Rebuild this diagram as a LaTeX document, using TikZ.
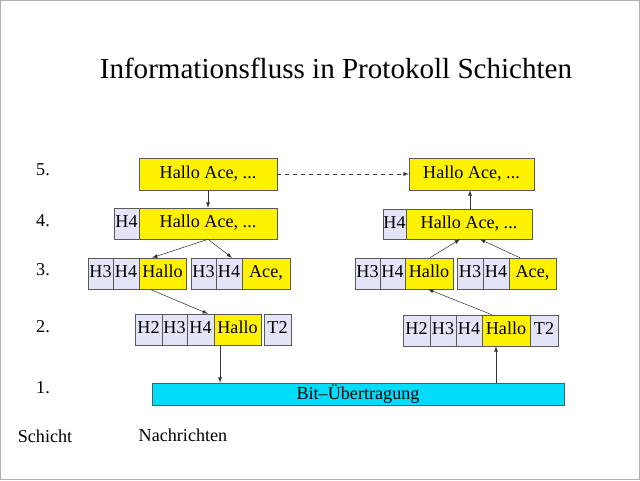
\documentclass[tikz,border=0pt]{standalone}
\usepackage{fontspec}
\setmainfont{Liberation Serif}
\begin{document}
\begin{tikzpicture}[x=0.75pt,y=-0.75pt,
 bx/.style={draw=gray!70!black,font=\fontsize{13.6}{15}\selectfont,inner sep=0pt},
 hd/.style={bx,fill={rgb,255:red,228;green,228;blue,248}},
 ye/.style={bx,fill=yellow},
 ar/.style={-latex,black!80,thin},
 lab/.style={font=\fontsize{13.6}{15}\selectfont}]
\useasboundingbox (0,0) rectangle (640,480);
\draw[gray!60] (0.5,0.5) rectangle (639.5,479.5);
\newcommand{\bxat}[6]{\node[#1,minimum width=#4*0.75pt-#3*0.75pt,minimum height=#6*0.75pt-#5*0.75pt] (#2) at ({(#3+#4)/2},{(#5+#6)/2}) {\strut\makebox[0pt]{\BxText}};}
\newcommand{\B}[7]{\def\BxText{#7}\bxat{#1}{#2}{#3}{#4}{#5}{#6}}
\node[font=\fontsize{21.8}{26}\selectfont] (title) at (336,68) {Informationsfluss in Protokoll Schichten};
% level 5
\B{ye}{l5}{139}{277}{158}{190}{Hallo Ace, ...}
\B{ye}{r5}{409}{534}{158}{190}{Hallo Ace, ...}
% level 4
\B{hd}{l4h}{114}{139}{208}{239}{H4}
\B{ye}{l4}{139}{277}{208}{239}{Hallo Ace, ...}
\B{hd}{r4h}{383}{406}{209}{239}{H4}
\B{ye}{r4}{406}{532}{209}{239}{Hallo Ace, ...}
% level 3
\B{hd}{l3a}{88}{113}{258}{289}{H3}
\B{hd}{l3b}{113}{139}{258}{289}{H4}
\B{ye}{l3c}{139}{186}{258}{289}{Hallo}
\B{hd}{l3d}{191}{216}{258}{289}{H3}
\B{hd}{l3e}{216}{242}{258}{289}{H4}
\B{ye}{l3f}{242}{290}{258}{289}{Ace,}
\B{hd}{r3a}{355}{380}{258}{289}{H3}
\B{hd}{r3b}{380}{405}{258}{289}{H4}
\B{ye}{r3c}{405}{453}{258}{289}{Hallo}
\B{hd}{r3d}{457}{483}{258}{289}{H3}
\B{hd}{r3e}{483}{509}{258}{289}{H4}
\B{ye}{r3f}{509}{556}{258}{289}{Ace,}
% level 2
\B{hd}{l2a}{135}{162}{314}{345}{H2}
\B{hd}{l2b}{162}{187}{314}{345}{H3}
\B{hd}{l2c}{187}{214}{314}{345}{H4}
\B{ye}{l2d}{214}{261}{314}{345}{Hallo}
\B{hd}{l2e}{264}{291}{314}{345}{T2}
\B{hd}{r2a}{403}{430}{315}{346}{H2}
\B{hd}{r2b}{430}{456}{315}{346}{H3}
\B{hd}{r2c}{456}{482}{315}{346}{H4}
\B{ye}{r2d}{482}{530}{315}{346}{Hallo}
\B{hd}{r2e}{530}{558}{315}{346}{T2}
% level 1
\node[bx,fill={rgb,255:red,0;green,220;blue,250},minimum width=412*0.75pt,minimum height=22*0.75pt] (bit) at (358,394) {Bit--Übertragung};
% labels
\node[lab] (s5) at (43,170) {5.};
\node[lab] (s4) at (43,221) {4.};
\node[lab] (s3) at (43,270) {3.};
\node[lab] (s2) at (43,327) {2.};
\node[lab] (s1) at (43,388) {1.};
\node[lab] (sch) at (45,436) {Schicht};
\node[lab] (nach) at (183,435) {Nachrichten};
% arrows
\draw[ar,dashed] (l5.east) -- (r5.west);
\draw[ar] (l5.south -| l4) -- (l4.north);
\draw[ar] (l4.south) -- (l3c.north -| 152,0);
\draw[ar] (l4.south) -- (l3f.north -| 232,0);
\draw[ar] (l3c.south -| 150,0) -- (l2d.north -| 208,0);
\draw[ar] (l2d.south -| 220,0) -- (bit.north -| 220,0);
\draw[ar] (bit.north -| 496,0) -- (r2d.south -| 496,0) ;
\draw[ar] (r2d.north -| 492,0) -- (r3c.south -| 428,0);
\draw[ar] (r3c.north -| 430,0) -- (r4.south -| 460,0);
\draw[ar] (r3f.north -| 520,0) -- (r4.south -| 480,0);
\draw[ar] (r4.north -| 470,0) -- (r5.south -| 470,0);
\end{tikzpicture}
\end{document}
